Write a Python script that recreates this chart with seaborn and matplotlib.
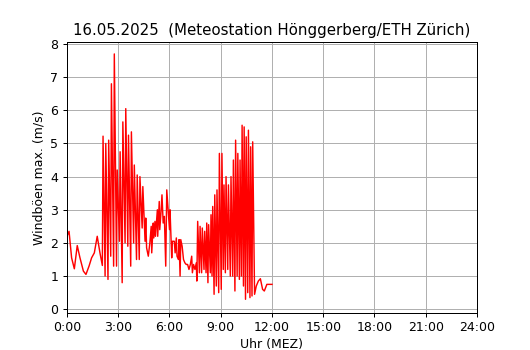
import numpy as np
import pandas as pd
import matplotlib
matplotlib.use("Agg")
import matplotlib.pyplot as plt
import seaborn as sns

# Windböen max. (m/s), Uhrzeit in Stunden (MEZ)
night_t = [0.00, 0.12, 0.27, 0.43, 0.60, 0.76, 0.96, 1.11, 1.29, 1.44, 1.60, 1.77, 1.93, 2.07]
night_v = [2.2, 2.35, 1.55, 1.22, 1.92, 1.55, 1.15, 1.05, 1.3, 1.55, 1.7, 2.2, 1.7, 1.32]

gust1_t = [2.11, 2.23, 2.27, 2.40, 2.44, 2.56, 2.60, 2.73, 2.77, 2.90, 2.94,
           3.07, 3.11, 3.23, 3.27, 3.40, 3.44, 3.56, 3.60, 3.73, 3.77, 3.90, 3.94,
           4.07, 4.11, 4.23, 4.27, 4.40, 4.44, 4.57, 4.61]
gust1_v = [5.22, 1.0, 5.0, 0.9, 5.1, 1.6, 6.8, 1.3, 7.7, 1.3, 4.2,
           2.05, 4.75, 0.8, 5.65, 2.0, 6.05, 1.9, 5.25, 1.3, 5.35, 2.0, 4.35,
           1.5, 4.05, 1.5, 4.0, 2.45, 3.7, 2.05, 2.75]

mid_t = [4.66, 4.76, 4.85, 4.93, 4.96, 5.05, 5.08, 5.15, 5.18, 5.29,
         5.31, 5.40, 5.43, 5.50, 5.56, 5.63, 5.70, 5.78, 5.84, 5.92,
         6.00, 6.03, 6.07, 6.13, 6.17, 6.28, 6.33, 6.40, 6.44, 6.52,
         6.56, 6.62, 6.66, 6.74, 6.82, 6.90, 6.98, 7.06, 7.14, 7.22,
         7.30, 7.34, 7.41, 7.49, 7.57]
mid_v = [1.85, 1.6, 2.0, 2.5, 1.7, 2.6, 2.15, 2.65, 2.2, 3.0,
         2.2, 3.25, 2.4, 2.9, 3.45, 2.6, 2.8, 1.3, 3.6, 3.0,
         2.4, 3.0, 2.4, 1.55, 2.05, 2.05, 1.7, 2.15, 1.6, 1.5,
         2.1, 1.0, 2.1, 1.9, 1.5, 1.4, 1.35, 1.35, 1.2, 1.35,
         1.6, 1.1, 1.35, 1.2, 1.4]

gust2_t = [7.60, 7.65, 7.75, 7.79, 7.88, 7.92, 8.02, 8.06, 8.14, 8.18, 8.25, 8.29,
           8.39, 8.43, 8.49, 8.53, 8.61, 8.65, 8.74, 8.78, 8.88, 8.92, 9.03, 9.07,
           9.15, 9.19, 9.27, 9.31, 9.41, 9.45, 9.56, 9.60, 9.70, 9.74, 9.83, 9.87,
           9.96, 10.00, 10.09, 10.13, 10.21, 10.25, 10.33, 10.37, 10.45, 10.49,
           10.58, 10.62, 10.71, 10.75, 10.83, 10.87]
gust2_v = [0.85, 2.65, 1.1, 2.5, 1.1, 2.45, 1.2, 2.35, 1.1, 2.6, 0.8, 2.55,
           1.1, 2.85, 1.0, 3.1, 0.45, 3.45, 0.7, 3.6, 0.5, 4.7, 0.6, 4.7,
           1.2, 3.75, 1.1, 4.0, 1.2, 3.75, 1.0, 4.0, 1.0, 4.5, 0.55, 5.1,
           1.0, 4.7, 0.9, 4.5, 1.0, 5.55, 0.7, 5.5, 0.3, 5.2,
           0.5, 5.4, 0.35, 4.9, 0.4, 5.05]

tail_t = [10.98, 11.08, 11.20, 11.32, 11.45, 11.55, 11.70, 11.85, 12.00]
tail_v = [0.45, 0.7, 0.85, 0.92, 0.6, 0.55, 0.75, 0.75, 0.75]

hour_ticks = [0, 3, 6, 9, 12, 15, 18, 21, 24]
hour_labels = ["0:00", "3:00", "6:00", "9:00", "12:00", "15:00", "18:00", "21:00", "24:00"]

df = pd.DataFrame({
    "Uhr": night_t + gust1_t + mid_t + gust2_t + tail_t,
    "Boe": night_v + gust1_v + mid_v + gust2_v + tail_v,
})

fig, ax = plt.subplots(figsize=(530 / 90, 350 / 90), dpi=90)
fig.subplots_adjust(left=0.1264, right=0.9, top=0.88, bottom=0.107)

sns.lineplot(data=df, x="Uhr", y="Boe", color="red", linewidth=1.15,
             estimator=None, sort=False, ax=ax)

ax.set_xlim(0, 24)
ax.set_ylim(-0.1, 8.06)
ax.set_xticks(hour_ticks)
ax.set_xticklabels(hour_labels)
ax.set_yticks(range(0, 9))
ax.grid(True, color="#b0b0b0", linewidth=0.8)
ax.set_axisbelow(True)
ax.set_xlabel("Uhr (MEZ)", labelpad=2.8)
ax.set_ylabel("Windböen max. (m/s)")
ax.set_title("16.05.2025  (Meteostation Hönggerberg/ETH Zürich)")

fig.savefig("out.png", dpi=90)
